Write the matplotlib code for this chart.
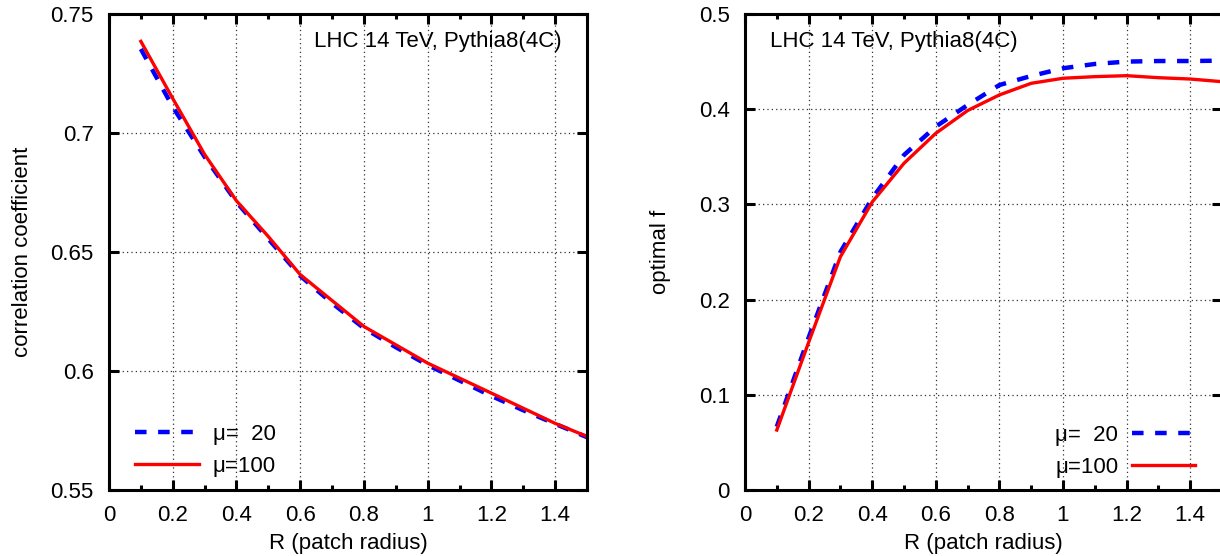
import numpy as np
import matplotlib
matplotlib.use("Agg")
import matplotlib.pyplot as plt
from matplotlib.ticker import MultipleLocator

plt.rcParams['font.family'] = ['Liberation Sans', 'DejaVu Sans']
plt.rcParams['font.size'] = 16

# left panel: correlation coefficient vs R
r_red_l = [0.1, 0.2, 0.3, 0.4, 0.5, 0.6, 0.8, 1.0, 1.2, 1.4, 1.5]
corr_mu100 = [0.7385, 0.7145, 0.6910, 0.6715, 0.6565, 0.6405, 0.6187, 0.6033, 0.5907, 0.5780, 0.5725]
r_blue_l = [0.1, 0.2, 0.3, 0.4, 0.5, 0.6, 0.7, 0.8, 0.9, 1.0, 1.1, 1.2, 1.3, 1.4, 1.5]
corr_mu20 = [0.7353, 0.7110, 0.6900, 0.6710, 0.6555, 0.6400, 0.6285, 0.6180, 0.6100,
             0.6025, 0.5960, 0.5895, 0.5835, 0.5778, 0.5722]

# right panel: optimal f vs R
r_right = [0.1, 0.2, 0.3, 0.4, 0.5, 0.6, 0.7, 0.8, 0.9, 1.0, 1.1, 1.2, 1.3, 1.4, 1.5]
optf_mu20 = [0.0665, 0.160, 0.250, 0.3064, 0.3519, 0.3817, 0.4044, 0.4254, 0.4349,
             0.4430, 0.4475, 0.4500, 0.4506, 0.4506, 0.4510]
optf_mu100 = [0.063, 0.155, 0.245, 0.3025, 0.3432, 0.3747, 0.3986, 0.4150, 0.4272,
              0.4325, 0.4342, 0.4352, 0.4331, 0.4317, 0.4289]

labels = [u'\u03bc=  20', u'\u03bc=100']
title_txt = 'LHC 14 TeV, Pythia8(4C)'

fig = plt.figure(figsize=(12.2, 5.56), dpi=100)
W, H = 1220.0, 556.0
ax1 = fig.add_axes([109 / W, 66 / H, 478 / W, 476 / H])
ax2 = fig.add_axes([745 / W, 66 / H, 477 / W, 476 / H])


def style(ax, ylo, yhi, ystep):
    ax.set_xlim(0, 1.5)
    ax.set_ylim(ylo, yhi)
    ax.xaxis.set_major_locator(MultipleLocator(0.2))
    ax.xaxis.set_minor_locator(MultipleLocator(0.1))
    ax.yaxis.set_major_locator(MultipleLocator(ystep))
    ax.tick_params(which='both', direction='in', top=True, right=True, width=2.2)
    ax.tick_params(which='major', length=7)
    ax.tick_params(which='minor', length=3.5)
    ax.tick_params(axis='x', which='major', pad=11)
    ax.tick_params(axis='y', which='major', pad=11)
    for s in ax.spines.values():
        s.set_linewidth(2.2)
    ax.grid(True, which='major', linestyle=(0, (1, 2.5)), color='0.2', linewidth=0.9)
    ax.set_xticks([0, 0.2, 0.4, 0.6, 0.8, 1.0, 1.2, 1.4])
    ax.set_xticklabels(['0', '0.2', '0.4', '0.6', '0.8', '1', '1.2', '1.4'])
    ax.set_xlabel('R (patch radius)', labelpad=5)


style(ax1, 0.55, 0.75, 0.05)
ax1.set_yticks([0.55, 0.6, 0.65, 0.7, 0.75])
ax1.set_yticklabels(['0.55', '0.6', '0.65', '0.7', '0.75'])
ax1.plot(r_blue_l, corr_mu20, color='#0000ff', linewidth=3.2, dashes=(2.6, 2.6), label=labels[0])
ax1.plot(r_red_l, corr_mu100, color='#ff0000', linewidth=2.4, label=labels[1])
ax1.set_ylabel('correlation coefficient')
ax1.yaxis.set_label_coords(-0.16, 0.5)
ax1.text(0.947, 0.93, title_txt, transform=ax1.transAxes, ha='right', va='baseline')
ax1.legend(loc='lower left', frameon=False, handlelength=2.85, handletextpad=0.63,
           labelspacing=0.5, bbox_to_anchor=(0.013, -0.014))

style(ax2, 0, 0.5, 0.1)
ax2.set_yticks([0, 0.1, 0.2, 0.3, 0.4, 0.5])
ax2.set_yticklabels(['0', '0.1', '0.2', '0.3', '0.4', '0.5'])
ax2.plot(r_right, optf_mu20, color='#0000ff', linewidth=3.2, dashes=(2.6, 2.6), label=labels[0])
ax2.plot(r_right, optf_mu100, color='#ff0000', linewidth=2.4, label=labels[1])
ax2.set_ylabel('optimal f')
ax2.yaxis.set_label_coords(-0.156, 0.5)
ax2.text(0.053, 0.93, title_txt, transform=ax2.transAxes, ha='left', va='baseline')
ax2.legend(loc='lower right', frameon=False, handlelength=2.85, handletextpad=0.6,
           labelspacing=0.5, markerfirst=False, bbox_to_anchor=(0.985, -0.016))

fig.savefig('out.png', dpi=100)
